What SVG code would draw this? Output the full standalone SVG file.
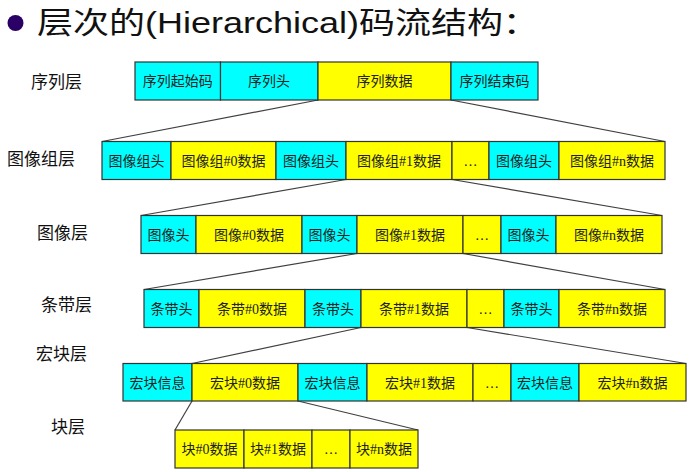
<svg xmlns="http://www.w3.org/2000/svg" width="697" height="472" viewBox="0 0 697 472">
<style>
.c{fill:#00FFFF;stroke:#333;stroke-width:1.2}
.y{fill:#FFFF00;stroke:#333;stroke-width:1.2}
.t{font-family:"Liberation Serif","Noto Sans CJK SC",serif;font-size:14px;fill:#222;text-anchor:middle}
.lb{font-family:"Noto Sans CJK SC","Liberation Sans",sans-serif;font-size:17px;fill:#111}
.ln{stroke:#404040;stroke-width:1.2;fill:none}
</style>
<rect width="697" height="472" fill="#fff"/>
<g id="title">
<circle cx="15.5" cy="23" r="8" fill="#2a0066"/>
<text transform="translate(37,33) scale(1.2,1)" x="0" y="0" font-family="Liberation Sans,Noto Sans CJK SC,sans-serif" font-size="30" fill="#111">层次的(Hierarchical)码流结构：</text>
</g>
<g id="labels">
<text class="lb" x="31" y="88">序列层</text>
<text class="lb" x="7" y="165">图像组层</text>
<text class="lb" x="37" y="239">图像层</text>
<text class="lb" x="41" y="311">条带层</text>
<text class="lb" x="36" y="360">宏块层</text>
<text class="lb" x="51" y="433">块层</text>
</g>
<g id="connectors">
<line class="ln" x1="318" y1="100" x2="102" y2="141.5"/>
<line class="ln" x1="451" y1="100" x2="665" y2="141.5"/>
<line class="ln" x1="346" y1="179.5" x2="141" y2="215.5"/>
<line class="ln" x1="452" y1="179.5" x2="662" y2="215.5"/>
<line class="ln" x1="357" y1="253.5" x2="144" y2="289.5"/>
<line class="ln" x1="463" y1="253.5" x2="665" y2="289.5"/>
<line class="ln" x1="361" y1="327.5" x2="192" y2="363.5"/>
<line class="ln" x1="467" y1="327.5" x2="686" y2="363.5"/>
<line class="ln" x1="192" y1="401" x2="175" y2="430"/>
<line class="ln" x1="298" y1="401" x2="418" y2="430"/>
</g>
<g id="row-sequence">
<g id="seq-start"><rect class="c" x="135" y="62" width="85.5" height="38"/><text class="t" x="177.7" y="86">序列起始码</text></g>
<g id="seq-header"><rect class="c" x="220.5" y="62" width="97.5" height="38"/><text class="t" x="269" y="86">序列头</text></g>
<g id="seq-data"><rect class="y" x="318" y="62" width="133" height="38"/><text class="t" x="384.5" y="86">序列数据</text></g>
<g id="seq-end"><rect class="c" x="451" y="62" width="87" height="38"/><text class="t" x="494.5" y="86">序列结束码</text></g>
</g>
<g id="row-gop">
<g id="gop-h0"><rect class="c" x="102" y="141.5" width="69" height="38"/><text class="t" x="136.5" y="165.5">图像组头</text></g>
<g id="gop-d0"><rect class="y" x="171" y="141.5" width="105" height="38"/><text class="t" x="223.5" y="165.5">图像组#0数据</text></g>
<g id="gop-h1"><rect class="c" x="276" y="141.5" width="70" height="38"/><text class="t" x="311" y="165.5">图像组头</text></g>
<g id="gop-d1"><rect class="y" x="346" y="141.5" width="106" height="38"/><text class="t" x="399" y="165.5">图像组#1数据</text></g>
<g id="gop-dots"><rect class="y" x="452" y="141.5" width="37" height="38"/><text class="t" x="470.5" y="165.5">…</text></g>
<g id="gop-hn"><rect class="c" x="489" y="141.5" width="70" height="38"/><text class="t" x="524" y="165.5">图像组头</text></g>
<g id="gop-dn"><rect class="y" x="559" y="141.5" width="106" height="38"/><text class="t" x="612" y="165.5">图像组#n数据</text></g>
</g>
<g id="row-picture">
<g id="pic-h0"><rect class="c" x="141" y="215.5" width="55" height="38"/><text class="t" x="168.5" y="239.5">图像头</text></g>
<g id="pic-d0"><rect class="y" x="196" y="215.5" width="106" height="38"/><text class="t" x="249" y="239.5">图像#0数据</text></g>
<g id="pic-h1"><rect class="c" x="302" y="215.5" width="55" height="38"/><text class="t" x="329.5" y="239.5">图像头</text></g>
<g id="pic-d1"><rect class="y" x="357" y="215.5" width="106" height="38"/><text class="t" x="410" y="239.5">图像#1数据</text></g>
<g id="pic-dots"><rect class="y" x="463" y="215.5" width="38" height="38"/><text class="t" x="482" y="239.5">…</text></g>
<g id="pic-hn"><rect class="c" x="501" y="215.5" width="55" height="38"/><text class="t" x="528.5" y="239.5">图像头</text></g>
<g id="pic-dn"><rect class="y" x="556" y="215.5" width="106" height="38"/><text class="t" x="609" y="239.5">图像#n数据</text></g>
</g>
<g id="row-slice">
<g id="sl-h0"><rect class="c" x="144" y="289.5" width="55" height="38"/><text class="t" x="171.5" y="313.5">条带头</text></g>
<g id="sl-d0"><rect class="y" x="199" y="289.5" width="106" height="38"/><text class="t" x="252" y="313.5">条带#0数据</text></g>
<g id="sl-h1"><rect class="c" x="305" y="289.5" width="56" height="38"/><text class="t" x="333" y="313.5">条带头</text></g>
<g id="sl-d1"><rect class="y" x="361" y="289.5" width="106" height="38"/><text class="t" x="414" y="313.5">条带#1数据</text></g>
<g id="sl-dots"><rect class="y" x="467" y="289.5" width="37" height="38"/><text class="t" x="485.5" y="313.5">…</text></g>
<g id="sl-hn"><rect class="c" x="504" y="289.5" width="55" height="38"/><text class="t" x="531.5" y="313.5">条带头</text></g>
<g id="sl-dn"><rect class="y" x="559" y="289.5" width="106" height="38"/><text class="t" x="612" y="313.5">条带#n数据</text></g>
</g>
<g id="row-macroblock">
<g id="mb-h0"><rect class="c" x="123" y="363.5" width="69" height="37.5"/><text class="t" x="157.5" y="387.5">宏块信息</text></g>
<g id="mb-d0"><rect class="y" x="192" y="363.5" width="106" height="37.5"/><text class="t" x="245" y="387.5">宏块#0数据</text></g>
<g id="mb-h1"><rect class="c" x="298" y="363.5" width="69" height="37.5"/><text class="t" x="332.5" y="387.5">宏块信息</text></g>
<g id="mb-d1"><rect class="y" x="367" y="363.5" width="106" height="37.5"/><text class="t" x="420" y="387.5">宏块#1数据</text></g>
<g id="mb-dots"><rect class="y" x="473" y="363.5" width="38" height="37.5"/><text class="t" x="492" y="387.5">…</text></g>
<g id="mb-hn"><rect class="c" x="511" y="363.5" width="68" height="37.5"/><text class="t" x="545" y="387.5">宏块信息</text></g>
<g id="mb-dn"><rect class="y" x="579" y="363.5" width="107" height="37.5"/><text class="t" x="632.5" y="387.5">宏块#n数据</text></g>
</g>
<g id="row-block">
<g id="blk-d0"><rect class="y" x="175" y="430" width="69" height="38"/><text class="t" x="209.5" y="454">块#0数据</text></g>
<g id="blk-d1"><rect class="y" x="244" y="430" width="68" height="38"/><text class="t" x="278" y="454">块#1数据</text></g>
<g id="blk-dots"><rect class="y" x="312" y="430" width="38" height="38"/><text class="t" x="331" y="454">…</text></g>
<g id="blk-dn"><rect class="y" x="350" y="430" width="68" height="38"/><text class="t" x="384" y="454">块#n数据</text></g>
</g>
</svg>
